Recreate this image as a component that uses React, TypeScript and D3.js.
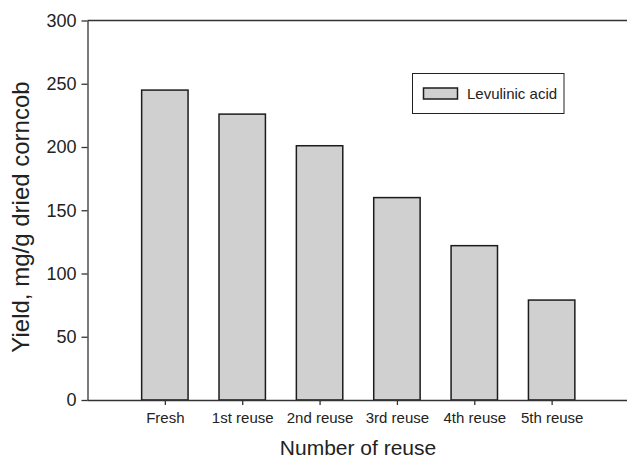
import React, { useEffect, useRef } from 'react'
import * as d3 from 'd3'

const categories = ['Fresh', '1st reuse', '2nd reuse', '3rd reuse', '4th reuse', '5th reuse']
const levulinicAcid = [245, 226, 201, 160, 122, 79]
const yTicks = [0, 50, 100, 150, 200, 250, 300]
const seriesName = 'Levulinic acid'

const W = 627
const H = 458
const FONT = '"Liberation Sans", Arial, Helvetica, sans-serif'

const App = () => {
    const ref = useRef<SVGSVGElement>(null)

    useEffect(() => {
        const svg = d3.select(ref.current)
        svg.selectAll('*').remove()

        const left = 87.5, top = 20.5, bottom = 400, right = 627

        const x = d3.scalePoint<string>().domain(categories).range([left, 629]).padding(1)
        const y = d3.scaleLinear().domain([0, 300]).range([bottom, top])
        const barW = x.step() * 0.6

        // bars
        svg.append('g').selectAll('rect')
            .data(levulinicAcid)
            .enter()
            .append('rect')
            .attr('x', (d, i) => (x(categories[i]) || 0) - barW / 2)
            .attr('y', d => y(d))
            .attr('width', barW)
            .attr('height', d => bottom - y(d))
            .attr('fill', '#d0d0d0')
            .attr('stroke', '#1c1c1c')
            .attr('stroke-width', 1.5)

        // top frame line
        svg.append('line')
            .attr('x1', left).attr('x2', right)
            .attr('y1', top).attr('y2', top)
            .attr('stroke', '#333').attr('stroke-width', 1.3)

        // y axis
        const ya = svg.append('g').attr('transform', `translate(${left},0)`)
            .call(d3.axisLeft(y).tickValues(yTicks).tickSize(6).tickPadding(5).tickSizeOuter(0))
        ya.select('.domain').attr('stroke', '#333').attr('stroke-width', 1.3)
        ya.selectAll('.tick line').attr('stroke', '#333').attr('stroke-width', 1.3)
        ya.selectAll('.tick text')
            .attr('font-family', FONT).attr('font-size', 18).attr('fill', '#222')

        // x axis
        const xa = svg.append('g').attr('transform', `translate(0,${bottom})`)
            .call(d3.axisBottom(x).tickSize(5).tickPadding(7).tickSizeOuter(0))
        xa.select('.domain').attr('d', `M${left},0.5H${right}`).attr('stroke', '#333').attr('stroke-width', 1.3)
        xa.selectAll('.tick line').attr('stroke', '#333').attr('stroke-width', 1.3)
        xa.selectAll('.tick text')
            .attr('font-family', FONT).attr('font-size', 15).attr('fill', '#222')

        // axis titles
        svg.append('text')
            .attr('x', 358).attr('y', 455)
            .attr('text-anchor', 'middle')
            .attr('font-family', FONT).attr('font-size', 21).attr('fill', '#222')
            .text('Number of reuse')

        svg.append('text')
            .attr('transform', 'translate(29,217) rotate(-90)')
            .attr('text-anchor', 'middle')
            .attr('font-family', FONT).attr('font-size', 24).attr('fill', '#222')
            .text('Yield, mg/g dried corncob')

        // legend
        const lg = svg.append('g')
        lg.append('rect')
            .attr('x', 412.5).attr('y', 73.5).attr('width', 151.5).attr('height', 40)
            .attr('fill', 'white').attr('stroke', '#222').attr('stroke-width', 1)
        lg.append('rect')
            .attr('x', 423.5).attr('y', 88).attr('width', 34).attr('height', 11)
            .attr('fill', '#d0d0d0').attr('stroke', '#1c1c1c').attr('stroke-width', 1.5)
        lg.append('text')
            .attr('x', 467).attr('y', 99)
            .attr('font-family', FONT).attr('font-size', 15).attr('fill', '#222')
            .text(seriesName)
    }, [])

    return (
        <svg ref={ref} width={W} height={H}
            style={{ position: 'absolute', left: 0, top: 0, background: 'white' }} />
    )
}

export default App
